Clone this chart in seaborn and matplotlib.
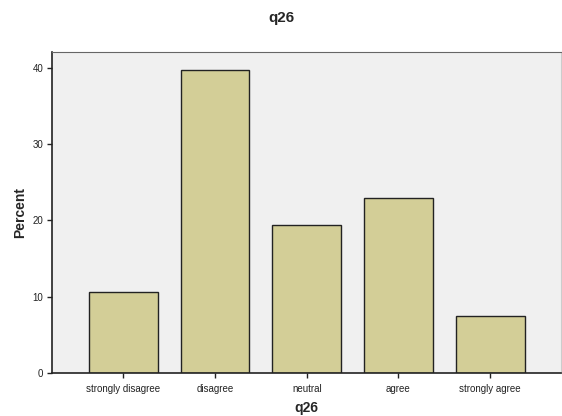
import pandas as pd
import matplotlib
matplotlib.use('Agg')
import matplotlib.pyplot as plt
import seaborn as sns

# 回答カテゴリと割合
categories = ['strongly disagree', 'disagree', 'neutral', 'agree', 'strongly agree']
percent = [10.6, 39.7, 19.4, 23.0, 7.4]

df = pd.DataFrame({'q26': categories, 'Percent': percent})

sns.set_style('white')
plt.rcParams['font.family'] = ['Liberation Sans', 'DejaVu Sans']

fig = plt.figure(figsize=(5.62, 4.16), dpi=100)
ax = fig.add_axes([0.092, 0.104, 0.906, 0.771])
ax.set_facecolor('#f0f0f0')

sns.barplot(data=df, x='q26', y='Percent', ax=ax, color='#d3ce97',
            saturation=1, width=0.75, edgecolor='#222222', linewidth=1)

ax.set_xlim(-0.78, 4.77)
ax.set_ylim(0, 42.1)
ax.set_yticks([0, 10, 20, 30, 40])

for side in ['left', 'bottom']:
    ax.spines[side].set_color('#222222')
    ax.spines[side].set_linewidth(1.2)
ax.spines['top'].set_color('#666666')
ax.spines['right'].set_color('#cccccc')

ax.tick_params(axis='both', direction='out', length=3.6, width=1, color='#222222',
               labelsize=7, labelcolor='#222222', left=True, bottom=True)
ax.tick_params(axis='x', pad=4.5)
ax.tick_params(axis='y', pad=2.5)

ax.set_xlabel('q26', fontsize=10, fontweight='bold')
ax.set_ylabel('Percent', fontsize=10, fontweight='bold')
ax.xaxis.set_label_coords(0.5, -0.089)
ax.yaxis.set_label_coords(-0.048, 0.5)
fig.text(0.5, 0.974, 'q26', ha='center', va='top', fontsize=11, fontweight='bold')

fig.savefig('out.png', dpi=100)
